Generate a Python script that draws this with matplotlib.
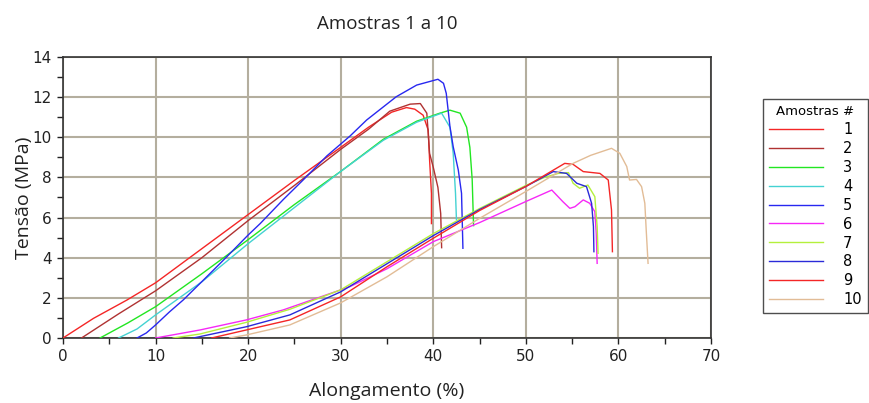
import matplotlib
matplotlib.use("Agg")
import matplotlib.pyplot as plt
from matplotlib.ticker import MultipleLocator

# ---- data ----
labels = ["1", "2", "3", "4", "5", "6", "7", "8", "9", "10"]
colors = ["#f42626", "#b03232", "#22e622", "#44d2d2", "#2828f0",
          "#f628f6", "#b4f03c", "#2a2ad8", "#f42626", "#e2bc96"]

x1 = [0, 3.3, 6.9, 10, 15, 20, 25, 30, 33, 35.5, 37.1, 38.0, 38.9, 39.45, 39.6, 39.8, 39.8]
y1 = [0, 0.98, 1.89, 2.75, 4.45, 6.15, 7.85, 9.5, 10.5, 11.25, 11.48, 11.4, 11.1, 10.36, 8.87, 7.2, 5.7]

x2 = [2, 6, 10, 15, 20, 25, 30, 33, 35.3, 37.5, 38.6, 39.3, 39.6, 40.0, 40.5, 40.8, 40.9]
y2 = [0, 1.2, 2.35, 4.0, 5.85, 7.6, 9.4, 10.4, 11.3, 11.65, 11.68, 11.2, 9.2, 8.5, 7.5, 6.2, 4.5]

x3 = [4, 7, 10, 15, 20, 25, 30, 34.6, 38.2, 40.7, 41.8, 42.9, 43.6, 43.95, 44.2, 44.35]
y3 = [0, 0.75, 1.56, 3.2, 4.9, 6.65, 8.3, 9.9, 10.8, 11.2, 11.35, 11.2, 10.5, 9.5, 7.9, 5.6]

x4 = [6, 8, 10, 15, 20, 25, 30, 34.6, 38.2, 40.9, 41.8, 42.15, 42.4, 42.5]
y4 = [0, 0.45, 1.15, 2.8, 4.7, 6.5, 8.3, 9.85, 10.75, 11.2, 10.5, 9.2, 7.2, 5.9]

x5 = [8, 9, 10, 11.5, 13, 15.2, 17.7, 20, 21.3, 23.8, 26, 28.5, 31, 32.8, 36, 38.2, 40.5,
      41.1, 41.4, 41.8, 42.15, 42.7, 43.05, 43.2]
y5 = [0, 0.25, 0.65, 1.3, 1.9, 2.9, 4.05, 5.13, 5.7, 6.9, 7.9, 9.07, 10.06, 10.86, 12.02, 12.6, 12.89,
      12.69, 12.19, 10.53, 9.53, 8.37, 7.21, 4.47]

x6 = [10, 14.8, 19.8, 23.8, 27.4, 31, 35, 40, 45, 50, 52.8, 54.0, 54.75, 55.3, 56.2, 56.9, 57.45, 57.6, 57.7]
y6 = [0, 0.4, 0.9, 1.4, 1.98, 2.56, 3.45, 4.8, 5.75, 6.8, 7.37, 6.79, 6.46, 6.54, 6.88, 6.71, 6.29, 5.22, 3.72]

x7 = [11.9, 14.8, 19.8, 24.5, 30, 35, 40, 45, 50, 52, 53.5, 54.6, 55.1, 55.8, 56.7, 57.45, 57.7, 57.8]
y7 = [0, 0.2, 0.78, 1.43, 2.4, 3.8, 5.2, 6.45, 7.6, 8.0, 8.2, 8.24, 7.71, 7.46, 7.62, 7.04, 5.55, 4.22]

x8 = [14.1, 19.8, 24.5, 30, 35, 40, 45, 50, 52, 52.95, 54.4, 55.5, 56.55, 57.1, 57.3, 57.35]
y8 = [0, 0.56, 1.15, 2.3, 3.7, 5.1, 6.4, 7.55, 8.05, 8.29, 8.2, 7.71, 7.54, 6.71, 5.55, 4.3]

x9 = [16.05, 19.8, 24.5, 30, 35, 40, 45, 50, 52, 54.2, 55.1, 56.2, 58.0, 58.9, 59.25, 59.35]
y9 = [0, 0.4, 0.9, 2.05, 3.55, 4.97, 6.35, 7.55, 8.1, 8.7, 8.65, 8.29, 8.2, 7.87, 6.38, 4.3]

x10 = [18, 19.8, 24.5, 30, 35, 40, 45, 50, 55.1, 57, 59.25, 60.15, 60.9, 61.2, 61.95, 62.5, 62.85, 63.0, 63.2]
y10 = [0, 0.15, 0.65, 1.75, 3.05, 4.55, 5.96, 7.3, 8.7, 9.1, 9.45, 9.2, 8.54, 7.87, 7.9, 7.54, 6.71, 5.38, 3.72]

xs = [x1, x2, x3, x4, x5, x6, x7, x8, x9, x10]
ys = [y1, y2, y3, y4, y5, y6, y7, y8, y9, y10]

# ---- figure ----
fig = plt.figure(figsize=(8.69, 4.03), dpi=100)
ax = fig.add_axes([0.0725, 0.1613, 0.7457, 0.6973])

for x, y, c, lab in zip(xs, ys, colors, labels):
    ax.plot(x, y, color=c, lw=1.0, label=lab, zorder=3)

ax.set_xlim(0, 70)
ax.set_ylim(0, 14)
ax.xaxis.set_major_locator(MultipleLocator(10))
ax.xaxis.set_minor_locator(MultipleLocator(5))
ax.yaxis.set_major_locator(MultipleLocator(2))
ax.yaxis.set_minor_locator(MultipleLocator(1))
ax.grid(True, which="major", color="#b4ae9e", lw=1.5, zorder=1)
for s in ax.spines.values():
    s.set_color("#333333")
    s.set_linewidth(1.2)
ax.tick_params(which="both", direction="out", length=4, width=1.0, color="#222222",
               labelsize=11, labelcolor="#222222", pad=4)

ax.set_title("Amostras 1 a 10", fontsize=13.5, family="Open Sans", pad=20, color="#222222")
ax.set_xlabel("Alongamento (%)", fontsize=14, family="Open Sans", labelpad=13, color="#222222")
ax.set_ylabel("Tensão (MPa)", fontsize=14, family="Open Sans", labelpad=0, color="#222222")

leg = fig.legend(loc="upper right", bbox_to_anchor=(0.9985, 0.754), title="Amostras #",
                 fontsize=10.5, title_fontsize=9.5, frameon=True, fancybox=False,
                 handlelength=3.7, handletextpad=1.4, labelspacing=0.27,
                 borderpad=0.4, borderaxespad=0)
leg.get_frame().set_edgecolor("#222222")
leg.get_frame().set_linewidth(1.0)

fig.savefig("out.png", dpi=100)
